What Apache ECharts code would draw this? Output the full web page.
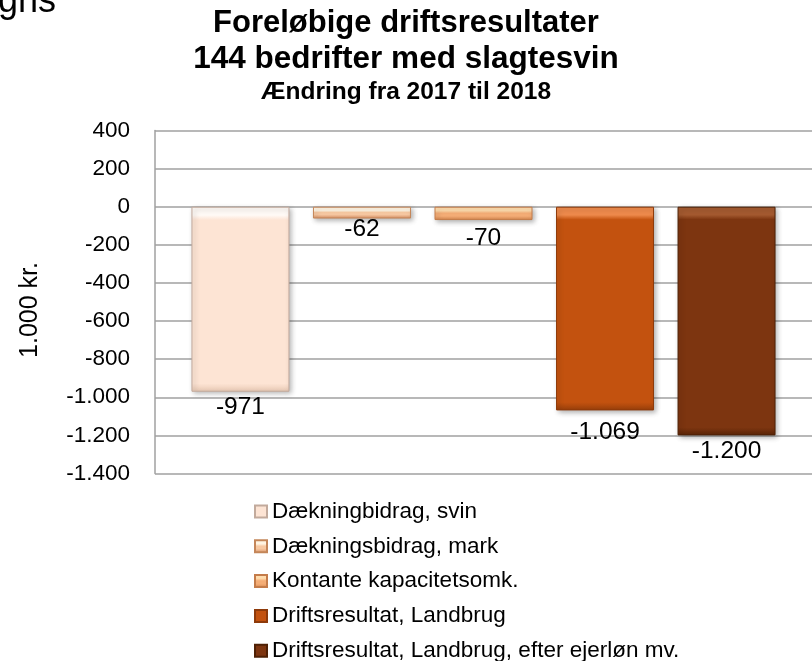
<!DOCTYPE html>
<html>
<head>
<meta charset="utf-8">
<script src="https://cdn.jsdelivr.net/npm/echarts@6/dist/echarts.min.js"></script>
<style>
html,body{margin:0;padding:0;background:#fff;}
#chart{width:812px;height:661px;}
</style>
</head>
<body>
<div id="chart"></div>
<script>
// ---- data ----
const titleLines = ['Foreløbige driftsresultater', '144 bedrifter med slagtesvin', 'Ændring fra 2017 til 2018'];
const yAxisName = '1.000 kr.';
const category = ['Ændring 2017-2018'];
const seriesNames = [
  'Dækningbidrag, svin',
  'Dækningsbidrag, mark',
  'Kontante kapacitetsomk.',
  'Driftsresultat, Landbrug',
  'Driftsresultat, Landbrug, efter ejerløn mv.'
];
const seriesValues = [-971, -62, -70, -1069, -1200];
const yMin = -1400, yMax = 400, yInterval = 200;

// ---- styles ----
const palette = [
  {top:'#FFFAF6', main:'#FDE4D4', bottom:'#E8C9B4', border:'#C2AA9C', frac:0.045},
  {top:'#FFF4E2', main:'#F8C9A2', bottom:'#D48C60', border:'#C48659', frac:0.33},
  {top:'#FFDCAD', main:'#F4AD76', bottom:'#D3834C', border:'#C47C4A', frac:0.3},
  {top:'#EE8A4C', main:'#C3520F', bottom:'#983F0B', border:'#8E3A0A', frac:0.04},
  {top:'#A45A30', main:'#7D3510', bottom:'#5A2406', border:'#4E2005', frac:0.035}
];
const labelDist = [3, -2, 6, 9, 3];

function bevel(p){
  return new echarts.graphic.LinearGradient(0,0,0,1,[
    {offset:0, color:p.top},
    {offset:p.frac, color:p.top},
    {offset:Math.min(p.frac*1.6,0.49), color:p.main},
    {offset:1-p.frac, color:p.main},
    {offset:1, color:p.bottom}
  ]);
}
function fmt(v){
  const s = Math.abs(v).toString().replace(/\B(?=(\d{3})+(?!\d))/g,'.');
  return (v<0?'-':'') + s;
}

const FONT = '"Liberation Sans", Arial, sans-serif';
const chart = echarts.init(document.getElementById('chart'), null, {renderer:'canvas'});

const series = seriesNames.map((name,i)=>({
  name: name,
  type: 'bar',
  data: [seriesValues[i]],
  barWidth: 98,
  barGap: '24%',
  itemStyle: {
    color: bevel(palette[i]),
    borderColor: palette[i].border,
    borderWidth: 1,
    shadowBlur: 5,
    shadowOffsetX: 2,
    shadowOffsetY: 2,
    shadowColor: 'rgba(0,0,0,0.3)'
  },
  label: {
    show: true,
    position: 'bottom',
    distance: labelDist[i],
    formatter: p => fmt(p.value),
    color: '#000',
    fontFamily: FONT,
    fontSize: 24.5
  },
  emphasis: {disabled: true}
}));

// one legend component per series, stacked vertically
const legends = seriesNames.map((name,i)=>({
  orient: 'vertical',
  left: 254,
  top: 500 + i*34.8,
  padding: 0,
  itemWidth: 12,
  itemHeight: 12,
  icon: 'rect',
  textStyle: {fontFamily:FONT, fontSize:22.5, color:'#000'},
  data: [name]
}));

chart.setOption({
  animation: false,
  backgroundColor: '#fff',
  title: [
    {text: titleLines[0], left:'center', top: 8, padding:0, textStyle:{fontFamily:FONT, fontSize:31, fontWeight:'bold', color:'#000'}},
    {text: titleLines[1], left:'center', top: 43, padding:0, textStyle:{fontFamily:FONT, fontSize:31.5, fontWeight:'bold', color:'#000'}},
    {text: titleLines[2], left:'center', top: 80, padding:0, textStyle:{fontFamily:FONT, fontSize:24.5, fontWeight:'bold', color:'#000'}}
  ],
  graphic: [
    {type:'text', left:-2, top:-16, style:{text:'gns', font:'36px ' + FONT, fill:'#000'}}
  ],
  grid: {left:155, right:-1, top:130.5, bottom:187.5, containLabel:false},
  legend: legends,
  xAxis: {
    type: 'category',
    data: category,
    axisLine: {show:false},
    axisTick: {show:false},
    axisLabel: {show:false}
  },
  yAxis: {
    type: 'value',
    min: yMin, max: yMax, interval: yInterval,
    name: yAxisName,
    nameLocation: 'middle',
    nameRotate: 90,
    nameGap: 112,
    nameTextStyle: {fontFamily:FONT, fontSize:25, color:'#000', padding:[0,16,0,0]},
    axisLine: {show:true, lineStyle:{color:'#A0A0A0', width:1.5}},
    axisTick: {show:false},
    axisLabel: {formatter: fmt, fontFamily:FONT, fontSize:22.5, color:'#000', margin:25},
    splitLine: {show:true, lineStyle:{color:'#A0A0A0', width:1.5}}
  },
  series: series
});
</script>
</body>
</html>
